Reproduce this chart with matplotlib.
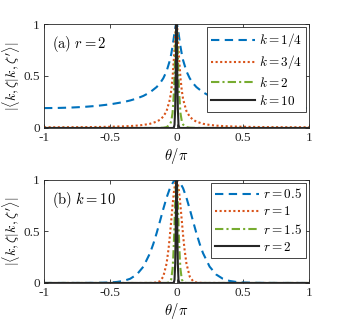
import numpy as np
import matplotlib
matplotlib.use("Agg")
import matplotlib.pyplot as plt

plt.rcParams['font.family'] = ['Liberation Serif', 'DejaVu Serif']
plt.rcParams['mathtext.fontset'] = 'cm'

# ---- panel (a): r = 2, varying k  (half curves, theta/pi >= 0; curves are even)
xa_k14 = [0, 0.0025, 0.005, 0.0075, 0.01, 0.015, 0.02, 0.03, 0.04, 0.05, 0.075,
          0.1, 0.125, 0.15, 0.2, 0.25, 0.3, 0.35, 0.4, 0.5, 0.6, 0.7, 0.8, 0.9, 1.0]
ya_k14 = [1, 0.99718, 0.98885, 0.97573, 0.95872, 0.91715, 0.87135, 0.78357, 0.70996,
          0.65051, 0.54555, 0.47757, 0.42965, 0.39379, 0.34315, 0.30873, 0.28364,
          0.26450, 0.24944, 0.22749, 0.21271, 0.20271, 0.19621, 0.19255, 0.19136]
ya_k34 = [1, 0.99155, 0.96693, 0.92893, 0.88120, 0.77148, 0.66157, 0.48110, 0.35785,
          0.27527, 0.16237, 0.10892, 0.07931, 0.06107, 0.04041, 0.02943, 0.02282,
          0.01850, 0.01552, 0.01177, 0.00962, 0.00833, 0.00755, 0.00714, 0.00701]
xa_k2 = [0, 0.0025, 0.005, 0.0075, 0.01, 0.015, 0.02, 0.03, 0.04, 0.05, 0.075,
         0.1, 0.15, 0.2, 1.0]
ya_k2 = [1, 0.97764, 0.91422, 0.82152, 0.71372, 0.50066, 0.33231, 0.14211, 0.06455,
         0.03206, 0.00785, 0.00271, 0.00058, 0.00019, 0.0]
xa_k10 = [0, 0.00125, 0.0025, 0.005, 0.0075, 0.01, 0.015, 0.02, 0.03, 1.0]
ya_k10 = [1, 0.97174, 0.89305, 0.63864, 0.37420, 0.18520, 0.03146, 0.00405, 0.00006, 0.0]

# ---- panel (b): k = 10, varying r
xb_r05 = [0, 0.0125, 0.025, 0.05, 0.075, 0.1, 0.125, 0.15, 0.175, 0.2, 0.25, 0.3,
          0.35, 0.4, 0.45, 0.5, 0.6, 0.7, 0.8, 0.9, 1.0]
yb_r05 = [1, 0.99469, 0.97896, 0.91883, 0.82779, 0.71722, 0.59910, 0.48403, 0.37942,
          0.28975, 0.15849, 0.08169, 0.04078, 0.02022, 0.01015, 0.00524, 0.00160,
          0.00061, 0.00030, 0.00020, 0.00017]
xb_r1 = [0, 0.005, 0.01, 0.02, 0.03, 0.04, 0.05, 0.06, 0.075, 0.1, 0.125, 0.15, 0.2,
         0.3, 1.0]
yb_r1 = [1, 0.99192, 0.96812, 0.87902, 0.74999, 0.60315, 0.45903, 0.33222, 0.18831,
         0.06136, 0.01727, 0.00449, 0.00029, 0.0, 0.0]
xb_r15 = [0, 0.0025, 0.005, 0.01, 0.015, 0.02, 0.025, 0.03, 0.04, 0.05, 0.075, 1.0]
yb_r15 = [1, 0.98465, 0.94015, 0.78297, 0.58150, 0.38897, 0.23731, 0.13389, 0.03564,
          0.00814, 0.00017, 0.0]
xb_r2 = xa_k10
yb_r2 = ya_k10

labels_a = [r'$k=1/4$', r'$k=3/4$', r'$k=2$', r'$k=10$']
labels_b = [r'$r=0.5$', r'$r=1$', r'$r=1.5$', r'$r=2$']

xticks = [-1, -0.5, 0, 0.5, 1]
xticklabels = ['-1', '-0.5', '0', '0.5', '1']
yticks = [0, 0.5, 1]
yticklabels = ['0', '0.5', '1']

colors = ['#0072BD', '#D95319', '#77AC30', '#262626']
styles = [dict(ls=(0, (4, 2.6))), dict(ls=(0, (1, 1.2))),
          dict(ls=(0, (4, 1.5, 1, 1.5))), dict(ls='-')]


def mirror(x, y):
    x = np.asarray(x, float)
    y = np.asarray(y, float)
    return np.r_[-x[:0:-1], x], np.r_[y[:0:-1], y]


def panel(ax, series, labels, title):
    for (x, y), lab, c, st in zip(series, labels, colors, styles):
        xx, yy = mirror(x, y)
        ax.plot(xx, yy, color=c, lw=1.5, label=lab, **st)
    ax.set_xlim(-1, 1)
    ax.set_ylim(0, 1)
    ax.set_xticks(xticks)
    ax.set_xticklabels(xticklabels)
    ax.set_yticks(yticks)
    ax.set_yticklabels(yticklabels)
    ax.tick_params(direction='in', top=True, right=True, length=3, width=0.6,
                   labelsize=9.5, colors='#262626', pad=3)
    for sp in ax.spines.values():
        sp.set_color('#262626')
        sp.set_linewidth(0.6)
    ax.set_xlabel(r'$\theta/\pi$', fontsize=10.5, labelpad=1)
    ax.set_ylabel(r"$|\langle k,\zeta|k,\zeta'\rangle|$", fontsize=10, labelpad=1)
    ax.text(0.03, 0.905, title, transform=ax.transAxes, fontsize=10.5, va='top')
    leg = ax.legend(loc='upper right', fontsize=9.5, handlelength=3.3,
                    borderaxespad=0.25, labelspacing=0.32, handletextpad=0.3,
                    borderpad=0.3, fancybox=False, framealpha=1)
    leg.get_frame().set_edgecolor('#262626')
    leg.get_frame().set_linewidth(0.6)


fig = plt.figure(figsize=(3.42, 3.27), dpi=100)
ax1 = fig.add_axes([0.1287, 0.6086, 0.7748, 0.318])
ax2 = fig.add_axes([0.1287, 0.1346, 0.7748, 0.315])

panel(ax1, [(xa_k14, ya_k14), (xa_k14, ya_k34), (xa_k2, ya_k2), (xa_k10, ya_k10)],
      labels_a, r'$\mathrm{(a)}\ r=2$')
panel(ax2, [(xb_r05, yb_r05), (xb_r1, yb_r1), (xb_r15, yb_r15), (xb_r2, yb_r2)],
      labels_b, r'$\mathrm{(b)}\ k=10$')

fig.savefig('out.png', dpi=100)
